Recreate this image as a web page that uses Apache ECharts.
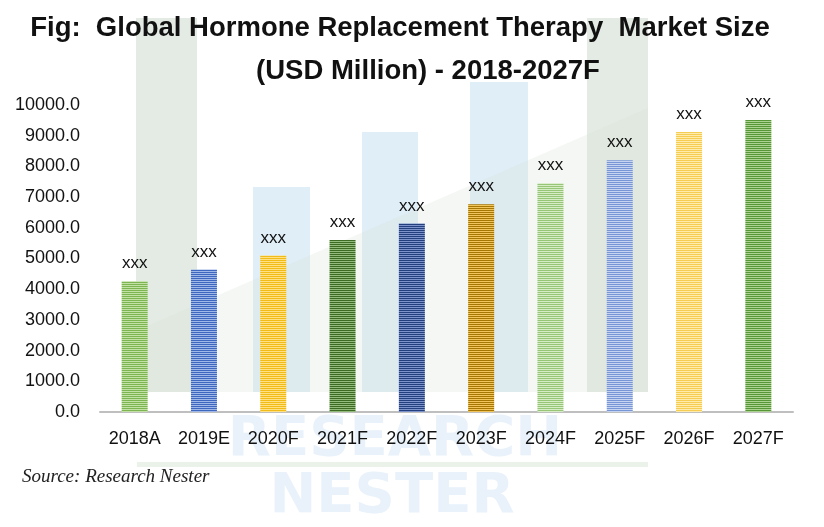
<!DOCTYPE html>
<html>
<head>
<meta charset="utf-8">
<script src="https://cdn.jsdelivr.net/npm/echarts@6/dist/echarts.min.js"></script>
<style>
  html, body { margin: 0; padding: 0; background: #ffffff; }
  #chart { width: 824px; height: 527px; }
</style>
</head>
<body>
<div id="chart"></div>
<script>
// ---- data ----
const categories = ['2018A', '2019E', '2020F', '2021F', '2022F', '2023F', '2024F', '2025F', '2026F', '2027F'];
const marketSize = [4260, 4640, 5100, 5600, 6140, 6770, 7450, 8200, 9120, 9510];
const barLabels = ['xxx', 'xxx', 'xxx', 'xxx', 'xxx', 'xxx', 'xxx', 'xxx', 'xxx', 'xxx'];
const yTicks = [0, 1000, 2000, 3000, 4000, 5000, 6000, 7000, 8000, 9000, 10000];

// ---- style (stripe colours: dark, light) ----
const stripeColors = [
  ['#7db650', '#c2e1a6'],
  ['#3e67bf', '#a0b8e8'],
  ['#f1bb18', '#ffe184'],
  ['#3d6b24', '#93bb7c'],
  ['#233f7e', '#7b93ca'],
  ['#a67803', '#f1c45c'],
  ['#96c676', '#d6ecc6'],
  ['#7896d5', '#c6d4f1'],
  ['#f5cd52', '#ffecad'],
  ['#589738', '#abd290']
];
function stripe(c) {
  const cv = document.createElement('canvas');
  cv.width = 4; cv.height = 2;
  const ctx = cv.getContext('2d');
  ctx.fillStyle = c[0]; ctx.fillRect(0, 0, 4, 1);
  ctx.fillStyle = c[1]; ctx.fillRect(0, 1, 4, 1);
  return { image: cv, repeat: 'repeat' };
}

const chart = echarts.init(document.getElementById('chart'), null, { renderer: 'canvas' });

const wmGreen = '#e3ebe4';
const wmBlue = '#e0eef8';

const option = {
  backgroundColor: '#ffffff',
  animation: false,
  title: [
    {
      text: 'Fig:  Global Hormone Replacement Therapy  Market Size',
      left: 395, top: 9, textAlign: 'center',
      textStyle: { fontFamily: 'Liberation Sans, sans-serif', fontWeight: 'bold', fontSize: 27.5, color: '#111' }
    },
    {
      text: '(USD Million) - 2018-2027F',
      left: 423, top: 52, textAlign: 'center',
      textStyle: { fontFamily: 'Liberation Sans, sans-serif', fontWeight: 'bold', fontSize: 27.5, color: '#111' }
    }
  ],
  graphic: [
    { type: 'rect', z: -10, shape: { x: 136, y: 18, width: 61, height: 374 }, style: { fill: wmGreen } },
    { type: 'rect', z: -10, shape: { x: 587, y: 18, width: 61, height: 374 }, style: { fill: wmGreen } },
    { type: 'rect', z: -10, shape: { x: 253, y: 187, width: 57, height: 205 }, style: { fill: wmBlue } },
    { type: 'rect', z: -10, shape: { x: 362, y: 132, width: 56, height: 260 }, style: { fill: wmBlue } },
    { type: 'rect', z: -10, shape: { x: 470, y: 82, width: 58, height: 310 }, style: { fill: wmBlue } },
    { type: 'polygon', z: -9, shape: { points: [[136, 331], [648, 108], [648, 392], [136, 392]] }, style: { fill: 'rgba(215,228,212,0.28)' } },
    { type: 'rect', z: -10, shape: { x: 137, y: 462, width: 511, height: 5 }, style: { fill: '#eaf2ea' } },
    { type: 'text', z: -10, style: { text: 'RESEARCH', x: 395, y: 440, textAlign: 'center', textVerticalAlign: 'middle', font: 'bold 56px "DejaVu Sans", sans-serif', fill: '#e9f2fa' } },
    { type: 'text', z: -10, style: { text: 'NESTER', x: 392, y: 497, textAlign: 'center', textVerticalAlign: 'middle', font: 'bold 56px "DejaVu Sans", sans-serif', fill: '#e9f2fa' } },
    { type: 'text', style: { text: 'Source: Research Nester', x: 22, y: 477, textVerticalAlign: 'middle', font: 'italic 19px "Liberation Serif", serif', fill: '#222' } }
  ],
  grid: { left: 100, right: 31, top: 105, bottom: 115, containLabel: false },
  xAxis: {
    type: 'category',
    data: categories,
    axisLine: { show: true, lineStyle: { color: '#bfbfbf', width: 2 } },
    axisTick: { show: false },
    axisLabel: { interval: 0, color: '#111', fontSize: 18, fontFamily: 'Liberation Sans, sans-serif', margin: 18 }
  },
  yAxis: {
    type: 'value',
    min: yTicks[0], max: yTicks[yTicks.length - 1], interval: 1000,
    splitLine: { show: false },
    axisLine: { show: false },
    axisTick: { show: false },
    axisLabel: { color: '#111', fontSize: 18, fontFamily: 'Liberation Sans, sans-serif', margin: 20,
      formatter: v => v.toFixed(1) }
  },
  series: [{
    type: 'bar',
    barWidth: 26,
    data: marketSize.map((v, i) => ({ value: v, itemStyle: { color: stripe(stripeColors[i]) } })),
    label: {
      show: true, position: 'top', distance: 9,
      formatter: p => barLabels[p.dataIndex],
      color: '#111', fontSize: 17, fontFamily: 'Liberation Sans, sans-serif'
    }
  }]
};
chart.setOption(option);
</script>
</body>
</html>
